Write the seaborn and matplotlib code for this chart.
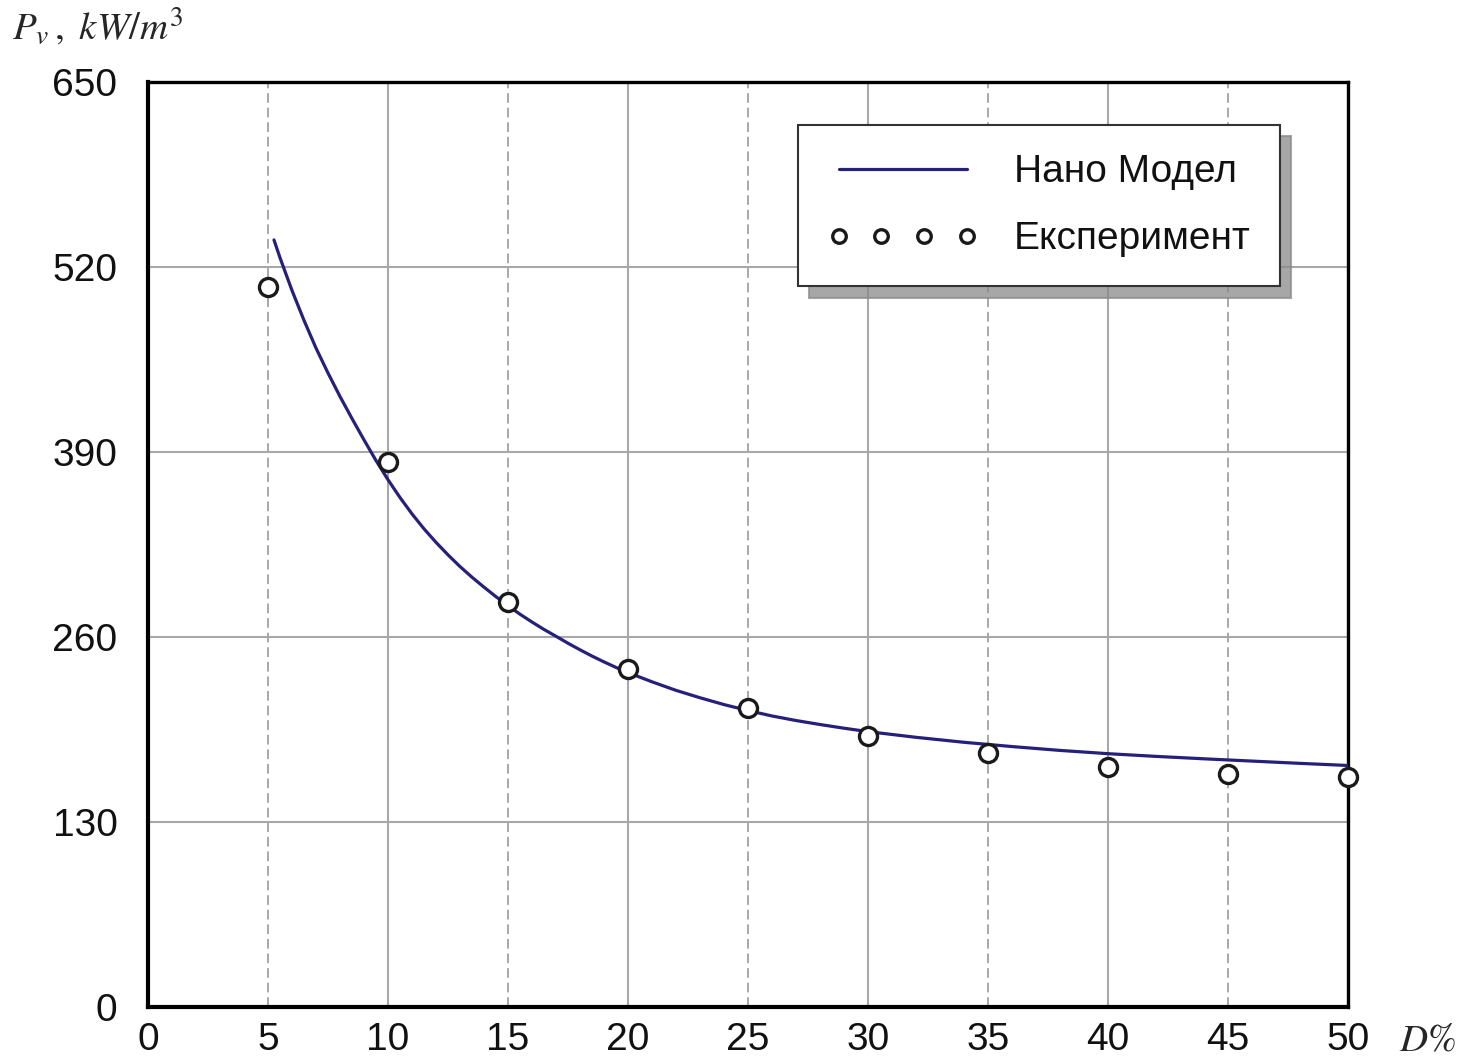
import numpy as np
import matplotlib
matplotlib.use('Agg')
import matplotlib.pyplot as plt
from matplotlib.ticker import FixedLocator
import pandas as pd
import seaborn as sns

# model curve
model_d = [5.25, 5.5, 6, 6.5, 7, 7.5, 8, 8.5, 9, 9.5, 10, 10.5, 11, 11.5, 12, 12.5,
           13, 13.5, 14, 14.5, 15, 15.5, 16, 16.5, 17, 17.5, 18, 18.5, 19, 19.5, 20,
           21, 22, 23, 24, 25, 26, 27, 28, 29, 30, 32, 34, 36, 38, 40, 42, 44, 46, 48, 50]
model_p = [539, 526.5, 503.5, 482.5, 463, 445.5, 429, 413.5, 398.5, 384, 370.5, 358,
           346.5, 336, 326.5, 317.7, 309.5, 302, 295, 288.3, 282, 276, 270.5, 265.3,
           260.5, 255.6, 251, 246.6, 242.5, 238.6, 235, 228.5, 222.5, 217.3, 212.5,
           208.3, 204.5, 201.3, 198.5, 195.9, 193.5, 189.5, 186, 183, 180.3, 178,
           176.1, 174.4, 172.8, 171.2, 169.7]

# experiment points
exp_d = [5, 10, 15, 20, 25, 30, 35, 40, 45, 50]
exp_p = [506, 383, 284.5, 237.5, 210, 190.5, 178.3, 168.4, 163.5, 161.8]

x_major = [0, 10, 20, 30, 40, 50]
x_minor = [5, 15, 25, 35, 45]
y_ticks = [0, 130, 260, 390, 520, 650]

model = pd.DataFrame({'D': model_d, 'P': model_p})
exper = pd.DataFrame({'D': exp_d, 'P': exp_p})

sns.set_style('white')
plt.rcParams['font.family'] = ['Liberation Sans', 'DejaVu Sans']
plt.rcParams['mathtext.fontset'] = 'stix'

fig = plt.figure(figsize=(14.74, 10.56), dpi=100)
ax = fig.add_axes([0.1004, 0.0464, 0.8141, 0.876])

#grid first so the data sits on top
ax.set_axisbelow(True)

sns.lineplot(data=model, x='D', y='P', ax=ax, color='#25207a', lw=2.3,
             sort=False, label='Нано Модел', zorder=3)
sns.lineplot(data=exper, x='D', y='P', ax=ax, color='#1a1a1a', lw=0, marker='o',
             markersize=13, markerfacecolor='white', markeredgecolor='#1a1a1a',
             markeredgewidth=2.4, linestyle='', sort=False,
             label='Експеримент', zorder=4, clip_on=False)

ax.set_xlim(0, 50)
ax.set_ylim(0, 650)
ax.xaxis.set_major_locator(FixedLocator(x_major))
ax.xaxis.set_minor_locator(FixedLocator(x_minor))
ax.xaxis.set_minor_formatter(plt.FuncFormatter(lambda v, p: '%d' % v))
ax.set_yticks(y_ticks)

ax.grid(True, which='major', axis='both', color='#a8a8a8', lw=1.5, ls='-')
ax.grid(True, which='minor', axis='x', color='#a8a8a8', lw=1.4, ls=(0, (5, 2.5)))

ax.tick_params(axis='x', which='both', length=0, labelsize=28, pad=11, colors='#111111')
ax.tick_params(axis='y', which='both', length=0, labelsize=28, pad=22, colors='#111111')
for sp in ax.spines.values():
    sp.set_color('black')
    sp.set_linewidth(2.4)
ax.spines['left'].set_linewidth(3)
ax.spines['bottom'].set_linewidth(3)

ax.set_xlabel('')
ax.set_ylabel('')

#axis titles in serif italic
fig.text(0.008, 0.975, r'$P_v\,,\ kW/m^3$', fontsize=28, ha='left', va='center')
fig.text(0.949, 0.015, r'$D\%$', fontsize=28, ha='left', va='center')

leg = ax.legend(loc='upper right', bbox_to_anchor=(0.943, 0.9535), numpoints=4,
                handlelength=3.9, handletextpad=0.9, borderpad=0.75, labelspacing=0.8,
                fontsize=28, fancybox=False, markerscale=0.75, borderaxespad=0,
                shadow={'ox': 8, 'oy': -8, 'color': '#8a8a8a', 'alpha': 0.75})
leg.get_frame().set_edgecolor('#333333')
leg.get_frame().set_linewidth(1.5)
leg.get_frame().set_alpha(1)
for t in leg.get_texts():
    t.set_color('#111111')

fig.savefig('out.png', dpi=100)
